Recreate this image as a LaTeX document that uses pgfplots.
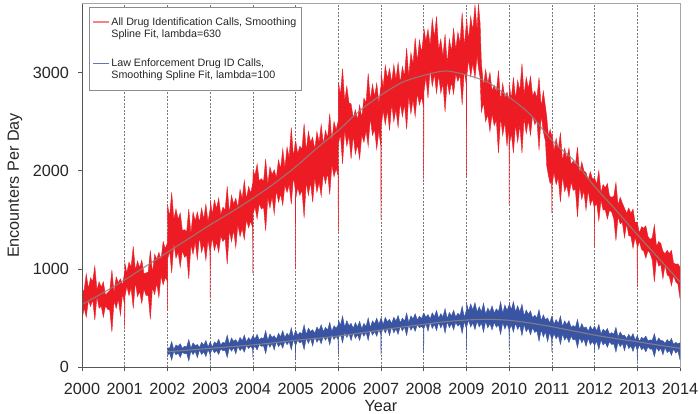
\documentclass[border=0pt]{standalone}
\usepackage{fontspec}
\setmainfont{Liberation Sans}
\usepackage{pgfplots}
\pgfplotsset{compat=1.18}
\usepackage{pgfplotstable}
\usepgfplotslibrary{fillbetween}
\definecolor{rd}{RGB}{237,28,36}
\definecolor{bl}{RGB}{58,84,164}
\definecolor{fitc}{RGB}{140,132,132}
\definecolor{axc}{RGB}{85,85,85}
\definecolor{gridc}{RGB}{120,120,120}

\pgfplotstableread{
x top bot
2000.00 760 480
2000.05 788 604
2000.10 950 510
2000.15 800 684
2000.20 910 620
2000.25 872 688
2000.30 1030 480
2000.35 786 720
2000.40 870 600
2000.45 816 622
2000.50 870 510
2000.55 732 628
2000.60 760 590
2000.65 780 582
2000.70 990 360
2000.75 758 676
2000.80 920 600
2000.85 860 696
2000.90 900 530
2000.95 836 752
2000.995 960 640
2001.00 900 400
2001.005 1060 720
2001.05 960 824
2001.10 1070 730
2001.15 1022 808
2001.20 1230 600
2001.25 986 870
2001.30 1080 720
2001.35 1016 772
2001.40 1090 650
2001.45 952 798
2001.50 960 730
2001.55 970 732
2001.60 1190 490
2001.65 958 816
2001.70 1150 740
2001.75 1100 856
2001.80 1170 710
2001.85 1096 932
2001.90 1280 840
2001.95 1208 914
2001.995 1260 880
2002.00 1240 580
2002.005 1650 1100
2002.05 1532 1188
2002.10 1780 960
2002.15 1506 1260
2002.20 1610 1110
2002.25 1506 1172
2002.30 1570 1020
2002.35 1392 1188
2002.40 1400 1120
2002.45 1380 1142
2002.50 1610 900
2002.55 1358 1246
2002.60 1580 1150
2002.65 1490 1276
2002.70 1580 1100
2002.75 1476 1332
2002.80 1620 1170
2002.85 1508 1254
2002.90 1660 1090
2002.95 1480 1294
2002.995 1600 1180
2003.00 1580 700
2003.005 1700 1180
2003.05 1556 1320
2003.10 1700 1190
2003.15 1616 1272
2003.20 1720 1170
2003.25 1552 1338
2003.30 1630 1280
2003.35 1600 1312
2003.40 1840 1050
2003.45 1568 1396
2003.50 1750 1280
2003.55 1660 1396
2003.60 1720 1220
2003.65 1626 1452
2003.70 1810 1330
2003.75 1718 1414
2003.80 1900 1300
2003.85 1710 1504
2003.90 1840 1420
2003.95 1772 1488
2003.995 1870 1420
2004.00 1850 960
2004.005 2000 1560
2004.05 1956 1632
2004.10 2070 1510
2004.15 1892 1668
2004.20 1920 1610
2004.25 1890 1632
2004.30 2120 1390
2004.35 1858 1726
2004.40 2040 1620
2004.45 1960 1736
2004.50 2010 1560
2004.55 1926 1802
2004.60 2110 1680
2004.65 2018 1764
2004.70 2220 1650
2004.75 2030 1854
2004.80 2240 1780
2004.85 2132 1858
2004.90 2440 1660
2004.95 2136 1940
2004.995 2300 1800
2005.00 2250 1000
2005.005 2300 1720
2005.05 2172 1828
2005.10 2250 1750
2005.15 2220 1802
2005.20 2480 1520
2005.25 2198 1886
2005.30 2400 1750
2005.35 2290 1886
2005.40 2340 1680
2005.45 2216 1932
2005.50 2400 1780
2005.55 2288 1884
2005.60 2470 1740
2005.65 2270 1974
2005.70 2410 1870
2005.75 2332 1978
2005.80 2580 1760
2005.85 2306 2060
2005.90 2500 1940
2005.95 2416 2022
2005.995 2500 1950
2006.00 2480 1365
2006.005 2900 2280
2006.05 2770 2372
2006.10 3040 2070
2006.15 2708 2416
2006.20 2860 2250
2006.25 2690 2356
2006.30 2680 2120
2006.35 2536 2362
2006.40 2620 2170
2006.45 2518 2264
2006.50 2670 2120
2006.55 2540 2364
2006.60 2740 2290
2006.65 2692 2408
2006.70 2990 2250
2006.75 2716 2540
2006.80 2880 2360
2006.85 2756 2422
2006.90 2890 2220
2006.95 2692 2408
2006.995 2850 2250
2007.00 2800 1500
2007.005 3000 2450
2007.05 2848 2616
2007.10 3070 2470
2007.15 2940 2616
2007.20 3040 2410
2007.25 2896 2682
2007.30 3080 2500
2007.35 2928 2624
2007.40 3100 2440
2007.45 2890 2694
2007.50 3060 2550
2007.55 2962 2678
2007.60 3250 2420
2007.65 2956 2760
2007.70 3200 2580
2007.75 3086 2722
2007.80 3350 2550
2007.85 3112 2788
2007.90 3330 2670
2007.95 3200 2752
2007.995 3380 2650
2008.00 3300 1900
2008.005 3450 2800
2008.05 3320 2956
2008.10 3440 2740
2008.15 3276 3032
2008.20 3540 2860
2008.25 3358 2984
2008.30 3570 2790
2008.35 3230 2974
2008.40 3340 2790
2008.45 3162 2888
2008.50 3390 2600
2008.55 3086 2920
2008.60 3340 2780
2008.65 3216 2902
2008.70 3450 2780
2008.75 3232 2988
2008.80 3410 2910
2008.85 3300 2972
2008.90 3610 2670
2008.95 3268 3026
2008.995 3480 2880
2009.00 3450 1940
2009.005 3550 2950
2009.05 3326 3132
2009.10 3570 2960
2009.15 3428 3094
2009.20 3690 2940
2009.25 3430 3174
2009.28 3700 3050
2009.32 3500 2950
2009.35 3100 2600
2009.40 2856 2690
2009.45 3030 2500
2009.50 2886 2572
2009.55 3000 2400
2009.60 2812 2578
2009.65 2870 2460
2009.70 2800 2512
2009.75 3020 2180
2009.80 2708 2546
2009.85 2890 2360
2009.90 2740 2496
2009.95 2800 2250
2009.995 2720 2450
2010.00 2700 1660
2010.005 2880 2260
2010.05 2728 2384
2010.10 2950 2180
2010.15 2730 2474
2010.20 2920 2290
2010.25 2812 2468
2010.30 3090 2180
2010.35 2776 2540
2010.40 2950 2380
2010.45 2836 2512
2010.50 2960 2360
2010.55 2762 2568
2010.60 2810 2470
2010.65 2740 2512
2010.70 2950 2210
2010.75 2648 2566
2010.80 2810 2400
2010.85 2650 2300
2010.88 2550 2050
2010.92 2350 1950
2010.96 2420 1870
2010.995 2350 1900
2011.00 2300 1570
2011.005 2380 1850
2011.05 2200 1984
2011.10 2330 1860
2011.15 2212 1928
2011.20 2390 1680
2011.25 2096 1950
2011.30 2230 1790
2011.35 2126 1852
2011.40 2230 1730
2011.45 2062 1888
2011.50 2100 1800
2011.55 2060 1812
2011.60 2240 1530
2011.65 1968 1846
2011.70 2090 1710
2011.75 2000 1796
2011.80 1980 1600
2011.85 1906 1802
2011.90 1990 1650
2011.95 1918 1714
2011.995 1920 1620
2012.00 1900 1220
2012.005 1920 1640
2012.05 1862 1668
2012.10 2000 1490
2012.15 1776 1700
2012.20 1860 1600
2012.25 1826 1602
2012.30 1870 1510
2012.35 1742 1598
2012.40 1730 1580
2012.45 1740 1512
2012.50 1880 1290
2012.55 1648 1536
2012.60 1730 1460
2012.65 1670 1476
2012.70 1620 1320
2012.75 1566 1462
2012.80 1620 1340
2012.85 1568 1334
2012.90 1610 1210
2012.95 1470 1324
2012.995 1480 1240
2013.00 1460 820
2013.005 1460 1220
2013.05 1366 1280
2013.10 1430 1200
2013.15 1416 1182
2013.20 1440 1110
2013.25 1332 1188
2013.30 1300 1160
2013.35 1320 1092
2013.40 1450 870
2013.45 1228 1116
2013.50 1280 1030
2013.55 1260 1046
2013.60 1180 900
2013.65 1156 1042
2013.70 1190 940
2013.75 1158 924
2013.80 1190 830
2013.85 1060 934
2013.90 1050 870
2013.95 1052 848
2014.00 1020 700
}\redtab

\pgfplotstableread{
x top bot
2002.00 200 120
2002.05 194 146
2002.10 262 73
2002.15 180 164
2002.20 228 127
2002.25 213 145
2002.30 240 101
2002.35 192 153
2002.40 215 138
2002.45 207 143
2002.50 282 65
2002.55 194 166
2002.60 249 129
2002.65 219 164
2002.70 232 97
2002.75 202 176
2002.80 255 130
2002.85 225 157
2002.90 273 109
2002.95 208 178
2002.995 250 135
2003.00 240 60
2003.005 260 140
2003.05 205 189
2003.10 258 147
2003.15 238 170
2003.20 285 131
2003.25 227 188
2003.30 255 168
2003.35 247 173
2003.40 327 100
2003.45 234 201
2003.50 299 164
2003.55 264 199
2003.60 282 137
2003.65 247 216
2003.70 305 170
2003.75 270 197
2003.80 328 154
2003.85 258 223
2003.90 301 190
2003.95 274 216
2003.995 315 185
2004.00 300 100
2004.005 320 190
2004.05 288 215
2004.10 335 176
2004.15 277 233
2004.20 300 213
2004.25 292 218
2004.30 372 140
2004.35 274 246
2004.40 339 204
2004.45 304 244
2004.50 322 177
2004.55 287 261
2004.60 345 210
2004.65 310 242
2004.70 373 194
2004.75 303 268
2004.80 346 230
2004.85 319 261
2004.90 402 178
2004.95 305 284
2004.995 370 225
2005.00 350 75
2005.005 375 225
2005.05 327 278
2005.10 355 248
2005.15 342 263
2005.20 432 180
2005.25 334 296
2005.30 399 244
2005.35 364 294
2005.40 382 217
2005.45 347 311
2005.50 410 255
2005.55 375 292
2005.60 433 239
2005.65 363 318
2005.70 406 275
2005.75 379 311
2005.80 457 228
2005.85 365 334
2005.90 423 282
2005.95 398 315
2005.995 430 280
2006.00 420 125
2006.005 480 305
2006.05 427 338
2006.10 522 250
2006.15 409 356
2006.20 474 304
2006.25 424 344
2006.30 447 272
2006.35 397 356
2006.40 455 295
2006.45 410 332
2006.50 468 274
2006.55 393 358
2006.60 446 315
2006.65 414 356
2006.70 502 273
2006.75 405 384
2006.80 473 327
2006.85 443 365
2006.90 500 316
2006.95 437 383
2006.995 495 335
2007.00 480 125
2007.005 500 340
2007.05 434 401
2007.10 509 349
2007.15 464 399
2007.20 487 322
2007.25 447 416
2007.30 510 350
2007.35 470 392
2007.40 528 334
2007.45 453 418
2007.50 501 370
2007.55 469 411
2007.60 552 323
2007.65 455 434
2007.70 523 377
2007.75 493 415
2007.80 545 366
2007.85 482 433
2007.90 520 403
2007.95 497 418
2007.995 545 390
2008.00 530 148
2008.005 550 395
2008.05 509 444
2008.10 537 367
2008.15 492 461
2008.20 555 395
2008.25 515 437
2008.30 578 374
2008.35 498 458
2008.40 546 400
2008.45 514 446
2008.50 597 348
2008.55 495 464
2008.60 558 402
2008.65 523 445
2008.70 580 381
2008.75 512 458
2008.80 550 418
2008.85 527 443
2008.90 622 345
2008.95 509 466
2008.995 575 400
2009.00 560 176
2009.005 650 410
2009.05 572 481
2009.10 645 410
2009.15 585 452
2009.20 658 384
2009.25 563 468
2009.30 616 410
2009.35 564 451
2009.40 652 358
2009.45 540 469
2009.50 603 402
2009.55 563 445
2009.60 625 381
2009.65 552 458
2009.70 595 408
2009.75 567 433
2009.80 667 335
2009.85 549 456
2009.90 634 389
2009.95 579 444
2009.995 630 385
2010.00 600 193
2010.005 650 380
2010.05 585 432
2010.10 668 359
2010.15 563 448
2010.20 626 385
2010.25 564 426
2010.30 642 323
2010.35 525 434
2010.40 583 362
2010.45 538 400
2010.50 575 331
2010.55 502 403
2010.60 530 353
2010.65 502 373
2010.70 587 265
2010.75 474 381
2010.80 534 309
2010.85 484 359
2010.90 502 262
2010.95 452 356
2010.995 515 285
2011.00 480 159
2011.005 510 280
2011.05 438 343
2011.10 486 290
2011.15 444 326
2011.20 522 233
2011.25 415 339
2011.30 473 277
2011.35 433 310
2011.40 475 251
2011.45 407 318
2011.50 425 278
2011.55 407 288
2011.60 487 200
2011.65 384 306
2011.70 444 249
2011.75 399 289
2011.80 412 212
2011.85 367 296
2011.90 420 230
2011.95 380 262
2011.995 415 228
2012.00 400 159
2012.005 415 225
2012.05 369 266
2012.10 437 180
2012.15 340 279
2012.20 388 227
2012.25 363 252
2012.30 395 203
2012.35 337 261
2012.40 353 232
2012.45 337 238
2012.50 407 155
2012.55 309 256
2012.60 359 209
2012.65 324 244
2012.70 327 170
2012.75 292 249
2012.80 335 190
2012.85 302 217
2012.90 343 161
2012.95 278 230
2012.995 318 178
2013.00 300 57
2013.005 315 175
2013.05 265 229
2013.10 305 179
2013.15 289 200
2013.20 318 156
2013.25 269 209
2013.30 279 185
2013.35 275 185
2013.40 342 108
2013.45 253 204
2013.50 299 164
2013.55 272 193
2013.60 270 127
2013.65 244 201
2013.70 282 150
2013.75 256 172
2013.80 293 122
2013.85 233 188
2013.90 254 145
2013.95 238 168
2014.00 250 74
}\bluetab

\begin{document}
\begin{tikzpicture}
\begin{axis}[
  at={(0pt,0pt)}, anchor=south west,
  width=598pt, height=363.6pt, scale only axis,
  xmin=2000, xmax=2014, ymin=0, ymax=3700,
  xtick={2000,2001,...,2014}, ytick={0,1000,2000,3000},
  /pgf/number format/1000 sep={},
  /pgf/number format/assume math mode=true,
  tick label style={font=\fontsize{16.2}{19}\selectfont, text=black!85, inner sep=0pt},
  xticklabel style={anchor=center, yshift=-17.4pt},
  yticklabel style={anchor=east, xshift=-9pt},
  tick align=outside, xtick pos=left, ytick pos=left, major tick length=4pt,
  tick style={axc, line width=0.6pt},
  axis line style={black!35, line width=0.8pt},
  xmajorgrids, major grid style={gridc, line width=0.5pt, dash pattern=on 2pt off 1.5pt},
  xlabel={Year}, ylabel={Encounters Per Day},
  label style={font=\fontsize{16.2}{19}\selectfont, text=black!85, inner sep=0pt},
  xlabel style={at={(axis description cs:0.5,-0.1064)}, anchor=center},
  ylabel style={at={(axis description cs:-0.112,0.5)}, anchor=center},
  legend style={at={(0.0117,0.991)}, anchor=north west, draw=black!45, line width=0.6pt,
    fill=white, font=\fontsize{10.7}{12.3}\selectfont, text=black!85,
    cells={anchor=west, align=left}, inner xsep=3pt, inner ysep=8pt, row sep=16pt},
  legend image code/.code={\path[draw=none] (0pt,-6pt) -- (0pt,6pt); \draw[#1] (0pt,6pt) -- (16pt,6pt);},
]
\addlegendimage{rd!55, line width=1.1pt}
\addlegendentry{All Drug Identification Calls, Smoothing\\Spline Fit, lambda=630}
\addlegendimage{bl!80!white, line width=1.1pt}
\addlegendentry{Law Enforcement Drug ID Calls,\\Smoothing Spline Fit, lambda=100}

\addplot[forget plot, rd, line width=0.4pt, name path=RT] table[x=x, y=top] {\redtab};
\addplot[forget plot, rd, line width=0.4pt, name path=RB] table[x=x, y=bot] {\redtab};
\addplot[forget plot, rd] fill between[of=RT and RB];

\addplot[forget plot, bl, line width=0.4pt, name path=BT] table[x=x, y=top] {\bluetab};
\addplot[forget plot, bl, line width=0.4pt, name path=BB] table[x=x, y=bot] {\bluetab};
\addplot[forget plot, bl] fill between[of=BT and BB];

\addplot[forget plot, fitc, opacity=0.85, line width=1.1pt, smooth] coordinates {
(2000,640) (2000.5,760) (2001,890) (2001.5,1030) (2002,1170) (2002.5,1310)
(2003,1450) (2003.5,1580) (2004,1720) (2004.5,1870) (2005,2040) (2005.5,2230)
(2006,2410) (2006.5,2610) (2007,2770) (2007.5,2900) (2008,2970) (2008.5,3015)
(2009,2975) (2009.5,2900) (2010,2750) (2010.5,2570) (2011,2310) (2011.5,2110)
(2012,1840) (2012.5,1600) (2013,1350) (2013.5,1110) (2014,870)};
\addplot[forget plot, fitc, opacity=0.85, line width=1.1pt, smooth] coordinates {
(2002,158) (2002.5,175) (2003,193) (2003.5,210) (2004,228) (2004.5,250)
(2005,275) (2005.5,295) (2006,318) (2006.5,348) (2007,379) (2007.5,410)
(2008,437) (2008.5,464) (2009,481) (2009.5,488) (2010,478) (2010.5,450)
(2011,413) (2011.5,370) (2012,328) (2012.5,292) (2013,260) (2013.5,226) (2014,193)};

\draw[axc, line width=1.1pt] (rel axis cs:0,1) -- (rel axis cs:0,0) -- (rel axis cs:1,0);
\end{axis}
\pgfresetboundingbox
\path[use as bounding box] (-82pt,-46.5pt) rectangle (618pt,367.3pt);
\end{tikzpicture}
\end{document}
